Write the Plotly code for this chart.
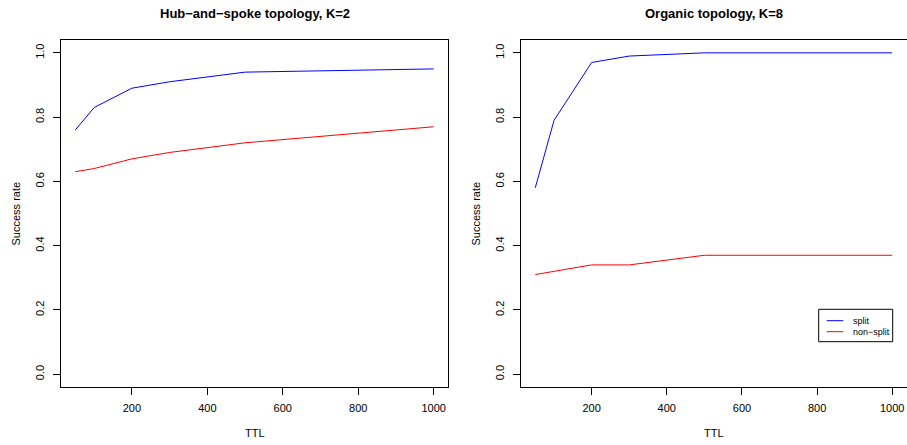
import plotly.graph_objects as go

ttl = [50, 100, 200, 300, 500, 1000]
hub_split = [0.76, 0.83, 0.89, 0.91, 0.94, 0.95]
hub_nonsplit = [0.63, 0.64, 0.67, 0.69, 0.72, 0.77]
org_split = [0.58, 0.79, 0.97, 0.99, 1.00, 1.00]
org_nonsplit = [0.31, 0.32, 0.34, 0.34, 0.37, 0.37]

titles = ["Hub\u2212and\u2212spoke topology, K=2", "Organic topology, K=8"]
series_names = ["split", "non\u2212split"]
series_colors = ["#0000FF", "#FF0000"]
x_ticks = [200, 400, 600, 800, 1000]
y_ticks = [0.0, 0.2, 0.4, 0.6, 0.8, 1.0]
y_ticklabels = ["0.0", "0.2", "0.4", "0.6", "0.8", "1.0"]

W, H = 907, 445
FONT = "Liberation Sans, Arial, sans-serif"

fig = go.Figure()
panels = [("x", "y", [hub_split, hub_nonsplit]), ("x2", "y2", [org_split, org_nonsplit])]
for xa, ya, series in panels:
    for vals, nm, col in zip(series, series_names, series_colors):
        fig.add_trace(go.Scatter(x=ttl, y=vals, mode="lines", line=dict(color=col, width=1),
                                 xaxis=xa, yaxis=ya, showlegend=False, name=nm))

# plot areas in pixels
left_px = (61, 448)
right_px = (521, 906.5)
top_px, bot_px = 40, 387
ydom = [(H - bot_px) / H, (H - top_px) / H]

xr = [50 - 0.04 * 950, 1000 + 0.04 * 950]
yr = [-0.04, 1.04]

def xax(dom, anchor):
    return dict(domain=dom, range=xr, anchor=anchor, showgrid=False, zeroline=False,
                showline=True, linecolor="black", linewidth=1, mirror=True,
                ticks="outside", ticklen=7, tickwidth=1, tickcolor="black",
                tickvals=x_ticks, ticktext=[str(v) for v in x_ticks],
                tickfont=dict(family=FONT, size=11, color="black"), ticklabelstandoff=4)

def yax(anchor):
    return dict(domain=ydom, range=yr, anchor=anchor, showgrid=False, zeroline=False,
                showline=True, linecolor="black", linewidth=1, mirror=True,
                ticks="outside", ticklen=7, tickwidth=1, tickcolor="black",
                tickvals=y_ticks, ticktext=y_ticklabels, tickangle=-90,
                tickfont=dict(family=FONT, size=11, color="black"), ticklabelstandoff=5)

fig.update_layout(
    width=W, height=H, margin=dict(l=0, r=0, t=0, b=0),
    paper_bgcolor="white", plot_bgcolor="white",
    font=dict(family=FONT, color="black"),
    xaxis=xax([left_px[0] / W, left_px[1] / W], "y"),
    yaxis=yax("x"),
    xaxis2=xax([right_px[0] / W, right_px[1] / W], "y2"),
    yaxis2=yax("x2"),
    showlegend=False,
)

annotations = []
for (x0, x1), t in zip([left_px, right_px], titles):
    cx = (x0 + x1) / 2 / W
    annotations.append(dict(text="<b>%s</b>" % t, x=cx, y=(H - 13) / H, xref="paper", yref="paper",
                            showarrow=False, xanchor="center", yanchor="middle",
                            font=dict(family=FONT, size=13, color="black")))
    annotations.append(dict(text="TTL", x=cx, y=(H - 433) / H, xref="paper", yref="paper",
                            showarrow=False, xanchor="center", yanchor="middle",
                            font=dict(family=FONT, size=11, color="black")))
    annotations.append(dict(text="Success rate", x=(x0 - 46) / W, y=(H - (top_px + bot_px) / 2) / H,
                            xref="paper", yref="paper", textangle=-90,
                            showarrow=False, xanchor="center", yanchor="middle",
                            font=dict(family=FONT, size=11, color="black")))

# legend (drawn in the right panel, R-style)
shapes = []
lg_x0, lg_x1, lg_y0, lg_y1 = 818.7, 892.7, 309.3, 341.7
shapes.append(dict(type="rect", xref="paper", yref="paper",
                   x0=lg_x0 / W, x1=lg_x1 / W, y0=(H - lg_y1) / H, y1=(H - lg_y0) / H,
                   line=dict(color="black", width=1), fillcolor="white", layer="above"))
for i, (nm, col) in enumerate(zip(series_names, series_colors)):
    yy = 320.7 + i * 11
    shapes.append(dict(type="line", xref="paper", yref="paper",
                       x0=826.7 / W, x1=843.3 / W, y0=(H - yy) / H, y1=(H - yy) / H,
                       line=dict(color=col, width=1), layer="above"))
    annotations.append(dict(text=nm, x=850.5 / W, y=(H - yy) / H, xref="paper", yref="paper",
                            showarrow=False, xanchor="left", yanchor="middle",
                            font=dict(family=FONT, size=9, color="black")))

fig.update_layout(annotations=annotations, shapes=shapes)

fig.write_html("out.html", config={"displayModeBar": False, "staticPlot": True},
               post_script="document.body.style.margin='0';document.body.style.overflow='hidden';")
